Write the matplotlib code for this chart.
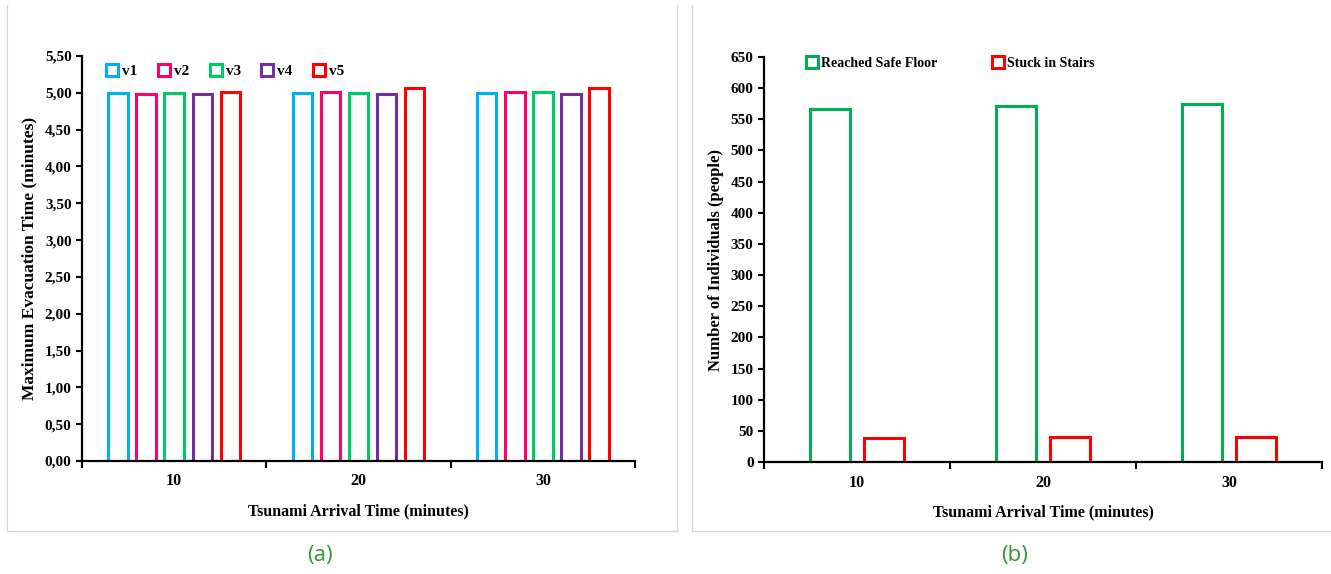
import numpy as np
import matplotlib
matplotlib.use("Agg")
import matplotlib.pyplot as plt
from matplotlib.lines import Line2D

# ---- data -------------------------------------------------------------
arrival_times = ["10", "20", "30"]

variant_names = ["v1", "v2", "v3", "v4", "v5"]
variant_colors = ["#00B0F0", "#FF0066", "#00CC66", "#7030A0", "#FF0000"]
v1 = [5.00, 5.00, 5.00]
v2 = [4.99, 5.01, 5.01]
v3 = [5.00, 5.00, 5.01]
v4 = [4.99, 4.99, 4.98]
v5 = [5.01, 5.07, 5.07]
evac_times = [v1, v2, v3, v4, v5]

reached_safe_floor = [567, 572, 574]
stuck_in_stairs = [39, 40, 40]
outcome_names = ["Reached Safe Floor", "Stuck in Stairs"]
outcome_colors = ["#00B050", "#FF0000"]

yticks_a = [0.0, 0.5, 1.0, 1.5, 2.0, 2.5, 3.0, 3.5, 4.0, 4.5, 5.0, 5.5]
yticks_b = list(range(0, 651, 50))

# ---- style ------------------------------------------------------------
serif = ["Liberation Serif", "DejaVu Serif"]
plt.rcParams["font.family"] = serif
plt.rcParams["font.weight"] = "bold"

fig = plt.figure(figsize=(13.31, 5.74), dpi=100)
fig.patch.set_facecolor("white")

ax_a = fig.add_axes([0.0616, 0.1969, 0.4155, 0.7056])
ax_b = fig.add_axes([0.5740, 0.1951, 0.4192, 0.7056])

centers = np.arange(len(arrival_times)) + 0.5


def style_axes(ax, xlabel, ylabel, ylabel_size):
    for side in ("top", "right"):
        ax.spines[side].set_visible(False)
    for side in ("left", "bottom"):
        ax.spines[side].set_linewidth(1.6)
        ax.spines[side].set_color("black")
    ax.set_xlim(0, len(arrival_times))
    ax.set_xticks(np.arange(len(arrival_times) + 1))
    ax.set_xticklabels([])
    ax.set_xticks(centers, minor=True)
    ax.set_xticklabels(arrival_times, minor=True)
    ax.tick_params(axis="x", which="major", direction="out", length=5, width=1.5)
    ax.tick_params(axis="x", which="minor", length=0, pad=9, labelsize=11.5)
    ax.tick_params(axis="y", direction="out", length=4, width=1.5, labelsize=11)
    ax.set_xlabel(xlabel, fontsize=11.5, fontweight="bold", labelpad=10)
    ax.set_ylabel(ylabel, fontsize=ylabel_size, fontweight="bold", labelpad=5)
    for lbl in ax.get_xticklabels(minor=True) + ax.get_yticklabels():
        lbl.set_fontweight("bold")


# ---- (a) maximum evacuation time per variant ---------------------------
step = 0.152
width_a = 0.105
for i, (name, color, vals) in enumerate(zip(variant_names, variant_colors, evac_times)):
    offset = (i - 2) * step
    ax_a.bar(centers + offset, vals, width=width_a, facecolor="white",
             edgecolor=color, linewidth=2.2, label=name, zorder=2)

ax_a.set_ylim(0, 5.5)
ax_a.set_yticks(yticks_a)
ax_a.set_yticklabels([f"{v:.2f}".replace(".", ",") for v in yticks_a])
style_axes(ax_a, "Tsunami Arrival Time (minutes)",
           "Maximum Evacuation Time (minutes)", 12.5)

handles_a = [Line2D([], [], linestyle="none", marker="s", markersize=8,
                    markerfacecolor="white", markeredgecolor=c,
                    markeredgewidth=2.2) for c in variant_colors]
ax_a.legend(handles_a, variant_names, loc="upper left", ncol=5, frameon=False,
            bbox_to_anchor=(0.0205, 1.0125), handlelength=0.6, handletextpad=0.35,
            columnspacing=1.45, prop={"family": serif, "weight": "bold", "size": 11})

# ---- (b) outcome counts -----------------------------------------------
width_b = 0.215
off_b = 0.144
ax_b.bar(centers - off_b, reached_safe_floor, width=width_b, facecolor="white",
         edgecolor=outcome_colors[0], linewidth=2.2, label=outcome_names[0], zorder=2)
ax_b.bar(centers + off_b, stuck_in_stairs, width=width_b, facecolor="white",
         edgecolor=outcome_colors[1], linewidth=2.2, label=outcome_names[1], zorder=2)

ax_b.set_ylim(0, 650)
ax_b.set_yticks(yticks_b)
ax_b.set_yticklabels([str(v) for v in yticks_b])
style_axes(ax_b, "Tsunami Arrival Time (minutes)",
           "Number of Individuals (people)", 12)

handles_b = [Line2D([], [], linestyle="none", marker="s", markersize=8,
                    markerfacecolor="white", markeredgecolor=c,
                    markeredgewidth=2.2) for c in outcome_colors]
ax_b.legend(handles_b, outcome_names, loc="upper left", ncol=2, frameon=False,
            bbox_to_anchor=(0.056, 1.03), handlelength=0.6, handletextpad=0.35,
            columnspacing=4.1, prop={"family": serif, "weight": "bold", "size": 10})

# ---- panel frames and captions -----------------------------------------
frame_color = "#D9D9D9"
y_bot, y_top = 1 - 531 / 574, 1 - 5 / 574
for x0, x1 in ((7 / 1331, 677 / 1331), (692 / 1331, 1.0)):
    fig.add_artist(Line2D([x0, x0], [y_bot, y_top], color=frame_color, lw=1.0))
    fig.add_artist(Line2D([x0, x1], [y_bot, y_bot], color=frame_color, lw=1.0))
    if x1 < 1.0:
        fig.add_artist(Line2D([x1, x1], [y_bot, y_top], color=frame_color, lw=1.0))

caption_font = ["Open Sans", "DejaVu Sans"]
fig.text(320 / 1331, 1 - 556 / 574, "(a)", ha="center", va="center",
         fontsize=16, color="#2E9A2E", family=caption_font, fontweight="normal")
fig.text(1015 / 1331, 1 - 556 / 574, "(b)", ha="center", va="center",
         fontsize=16, color="#2E9A2E", family=caption_font, fontweight="normal")

fig.savefig("out.png", dpi=100, facecolor="white")
